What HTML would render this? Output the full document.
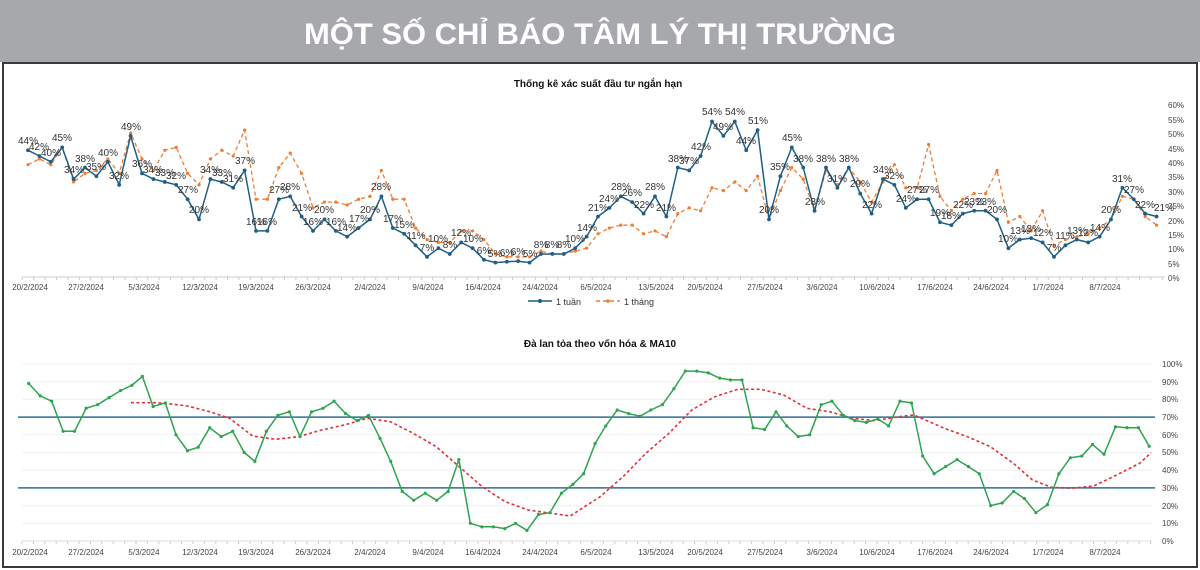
<!DOCTYPE html>
<html><head><meta charset="utf-8">
<style>
html,body{margin:0;padding:0;background:#fff;}
body{width:1200px;height:570px;overflow:hidden;position:relative;font-family:"Liberation Sans",sans-serif;}
svg{position:absolute;left:0;top:0;}
</style></head>
<body>
<svg id="s" width="1200" height="570" viewBox="0 0 1200 570" xmlns="http://www.w3.org/2000/svg" font-family="Liberation Sans, sans-serif">
<rect x="0" y="0" width="1200" height="62" fill="#a7a8ab"/>
<text x="600" y="44" text-anchor="middle" font-size="30" font-weight="bold" fill="#fff" textLength="592" lengthAdjust="spacingAndGlyphs">MỘT SỐ CHỈ BÁO TÂM LÝ THỊ TRƯỜNG</text>
<rect x="3" y="63" width="1194" height="504" fill="#fff" stroke="#3a3a3a" stroke-width="2"/>

<text x="598" y="87" text-anchor="middle" font-size="10" font-weight="bold" fill="#111">Thống kê xác suất đầu tư ngắn hạn</text>
<line x1="22" y1="277" x2="1165" y2="277" stroke="#ccc" stroke-width="1"/>
<g font-size="8" fill="#444" text-anchor="start">
<text x="1168" y="108">60%</text><text x="1168" y="123">55%</text><text x="1168" y="137">50%</text><text x="1168" y="152">45%</text><text x="1168" y="166">40%</text><text x="1168" y="180">35%</text><text x="1168" y="195">30%</text><text x="1168" y="209">25%</text><text x="1168" y="224">20%</text><text x="1168" y="238">15%</text><text x="1168" y="252">10%</text><text x="1168" y="267">5%</text><text x="1168" y="281">0%</text>
</g>
<g font-size="8" fill="#444" text-anchor="middle">
<text x="30" y="290">20/2/2024</text><text x="86" y="290">27/2/2024</text><text x="144" y="290">5/3/2024</text><text x="200" y="290">12/3/2024</text><text x="256" y="290">19/3/2024</text><text x="313" y="290">26/3/2024</text><text x="370" y="290">2/4/2024</text><text x="428" y="290">9/4/2024</text><text x="483" y="290">16/4/2024</text><text x="540" y="290">24/4/2024</text><text x="596" y="290">6/5/2024</text><text x="656" y="290">13/5/2024</text><text x="705" y="290">20/5/2024</text><text x="765" y="290">27/5/2024</text><text x="822" y="290">3/6/2024</text><text x="877" y="290">10/6/2024</text><text x="935" y="290">17/6/2024</text><text x="991" y="290">24/6/2024</text><text x="1048" y="290">1/7/2024</text><text x="1105" y="290">8/7/2024</text>
</g>
<g id="gtop"></g>
<g font-size="10" fill="#333" text-anchor="middle">
<text x="28" y="144">44%</text><text x="39" y="150">42%</text><text x="51" y="156">40%</text><text x="62" y="141">45%</text><text x="74" y="173">34%</text><text x="85" y="162">38%</text><text x="96" y="170">35%</text><text x="108" y="156">40%</text><text x="119" y="179">32%</text><text x="131" y="130">49%</text><text x="142" y="167">36%</text><text x="153" y="173">34%</text><text x="165" y="176">33%</text><text x="176" y="179">32%</text><text x="188" y="193">27%</text><text x="199" y="213">20%</text><text x="210" y="173">34%</text><text x="222" y="176">33%</text><text x="233" y="182">31%</text><text x="245" y="164">37%</text><text x="256" y="225">16%</text><text x="267" y="225">16%</text><text x="279" y="193">27%</text><text x="290" y="190">28%</text><text x="302" y="211">21%</text><text x="313" y="225">16%</text><text x="324" y="213">20%</text><text x="336" y="225">16%</text><text x="347" y="231">14%</text><text x="359" y="222">17%</text><text x="370" y="213">20%</text><text x="381" y="190">28%</text><text x="393" y="222">17%</text><text x="404" y="228">15%</text><text x="416" y="239">11%</text><text x="427" y="251">7%</text><text x="438" y="242">10%</text><text x="450" y="248">8%</text><text x="461" y="236">12%</text><text x="473" y="242">10%</text><text x="484" y="254">6%</text><text x="495" y="257">5%</text><text x="507" y="256">6%</text><text x="518" y="255">6%</text><text x="530" y="257">5%</text><text x="541" y="248">8%</text><text x="552" y="248">8%</text><text x="564" y="248">8%</text><text x="575" y="242">10%</text><text x="587" y="231">14%</text><text x="598" y="211">21%</text><text x="609" y="202">24%</text><text x="621" y="190">28%</text><text x="632" y="196">26%</text><text x="644" y="208">22%</text><text x="655" y="190">28%</text><text x="666" y="211">21%</text><text x="678" y="162">38%</text><text x="689" y="164">37%</text><text x="701" y="150">42%</text><text x="712" y="115">54%</text><text x="723" y="130">49%</text><text x="735" y="115">54%</text><text x="746" y="144">44%</text><text x="758" y="124">51%</text><text x="769" y="213">20%</text><text x="780" y="170">35%</text><text x="792" y="141">45%</text><text x="803" y="162">38%</text><text x="815" y="205">23%</text><text x="826" y="162">38%</text><text x="837" y="182">31%</text><text x="849" y="162">38%</text><text x="860" y="187">29%</text><text x="872" y="208">22%</text><text x="883" y="173">34%</text><text x="894" y="179">32%</text><text x="906" y="202">24%</text><text x="917" y="193">27%</text><text x="929" y="193">27%</text><text x="940" y="216">19%</text><text x="951" y="219">18%</text><text x="963" y="208">22%</text><text x="974" y="205">23%</text><text x="986" y="205">23%</text><text x="997" y="213">20%</text><text x="1008" y="242">10%</text><text x="1020" y="234">13%</text><text x="1031" y="232">13%</text><text x="1043" y="236">12%</text><text x="1054" y="251">7%</text><text x="1065" y="239">11%</text><text x="1077" y="234">13%</text><text x="1088" y="236">12%</text><text x="1100" y="231">14%</text><text x="1111" y="213">20%</text><text x="1122" y="182">31%</text><text x="1134" y="193">27%</text><text x="1145" y="208">22%</text><text x="1164" y="211">21%</text>
</g>
<line x1="528" y1="301" x2="552" y2="301" stroke="#1f5f85" stroke-width="1.5"/><circle cx="540" cy="301" r="2" fill="#1f5f85"/>
<text x="556" y="305" font-size="9" fill="#333">1 tuần</text>
<line x1="596" y1="301" x2="620" y2="301" stroke="#f07c33" stroke-width="1.5" stroke-dasharray="4,3"/><circle cx="608" cy="301" r="1.8" fill="#f07c33"/>
<text x="624" y="305" font-size="9" fill="#333">1 tháng</text>

<text x="600" y="347" text-anchor="middle" font-size="10" font-weight="bold" fill="#111">Đà lan tỏa theo vốn hóa &amp; MA10</text>
<g id="ggrid2"></g>
<g font-size="8" fill="#444">
<text x="1162" y="367">100%</text><text x="1162" y="385">90%</text><text x="1162" y="402">80%</text><text x="1162" y="420">70%</text><text x="1162" y="438">60%</text><text x="1162" y="455">50%</text><text x="1162" y="473">40%</text><text x="1162" y="491">30%</text><text x="1162" y="509">20%</text><text x="1162" y="526">10%</text><text x="1162" y="544">0%</text>
</g>
<g font-size="8" fill="#444" text-anchor="middle">
<text x="30" y="555">20/2/2024</text><text x="86" y="555">27/2/2024</text><text x="144" y="555">5/3/2024</text><text x="200" y="555">12/3/2024</text><text x="256" y="555">19/3/2024</text><text x="313" y="555">26/3/2024</text><text x="370" y="555">2/4/2024</text><text x="428" y="555">9/4/2024</text><text x="483" y="555">16/4/2024</text><text x="540" y="555">24/4/2024</text><text x="596" y="555">6/5/2024</text><text x="656" y="555">13/5/2024</text><text x="705" y="555">20/5/2024</text><text x="765" y="555">27/5/2024</text><text x="822" y="555">3/6/2024</text><text x="877" y="555">10/6/2024</text><text x="935" y="555">17/6/2024</text><text x="991" y="555">24/6/2024</text><text x="1048" y="555">1/7/2024</text><text x="1105" y="555">8/7/2024</text>
</g>
<g id="gbot"></g>
</svg>
<script>
(function(){
var NS="http://www.w3.org/2000/svg";
function el(p,n,a){var e=document.createElementNS(NS,n);for(var k in a)e.setAttribute(k,a[k]);p.appendChild(e);return e;}
var gT=document.getElementById('gtop'),gB=document.getElementById('gbot'),gG=document.getElementById('ggrid2');
var blue=[44,42,40,45,34,38,35,40,32,49,36,34,33,32,27,20,34,33,31,37,16,16,27,28,21,16,20,16,14,17,20,28,17,15,11,7,10,8,12,10,6,5,5.3,5.5,5,8,8,8,10,14,21,24,28,26,22,28,21,38,37,42,54,49,54,44,51,20,35,45,38,23,38,31,38,29,22,34,32,24,27,27,19,18,22,23,23,20,10,13,13.5,12,7,11,13,12,14,20,31,27,22,21];
var org=[39,41,39,45,33,36,37,41,36,50,41,37,44,45,36,32,41,44,42,51,27,27,38,43,36,24,26,26,25,27,28,37,27,27,17,13,12,12,16,16,13,8,7,7,7,9,8,8,9,10,15,17,18,18,15,16,14,22,24,23,31,30,33,30,35,20,30,38,34,23,37,32,38,33,26,33,39,31,31,46,28,23,27,29,29,37,19,21,16,23,11,13,14,15,17,20,28,27,21,18];
function tx(i){return 28+11.4*i;} function ty(v){return 277-2.88*v;}
function pl(parent,pts,attrs){var a={points:pts.map(function(p){return p[0].toFixed(1)+','+p[1].toFixed(1)}).join(' '),fill:'none'};for(var k in attrs)a[k]=attrs[k];el(parent,'polyline',a);}
var po=org.map(function(v,i){return [tx(i),ty(v)]});
pl(gT,po,{stroke:'#f07c33','stroke-width':1.3,'stroke-dasharray':'4,3'});
po.forEach(function(p){el(gT,'circle',{cx:p[0],cy:p[1],r:1.6,fill:'#f07c33'})});
var pb=blue.map(function(v,i){return [tx(i),ty(v)]});
pl(gT,pb,{stroke:'#1f5f85','stroke-width':1.5});
pb.forEach(function(p){el(gT,'circle',{cx:p[0],cy:p[1],r:1.9,fill:'#1f5f85'})});
for(var i=0;i<101;i++){el(gT,'line',{x1:tx(i)-5.7,y1:277,x2:tx(i)-5.7,y2:280,stroke:'#ccc'})}
function by(v){return 364+(100-v)*1.77;}
for(var v=0;v<=100;v+=10){el(gG,'line',{x1:22,x2:1152,y1:by(v),y2:by(v),stroke:v==0?'#ddd':'#f0f0f0','stroke-width':1});}
el(gG,'line',{x1:18,x2:1155,y1:by(70),y2:by(70),stroke:'#2f6d94','stroke-width':1.5});
el(gG,'line',{x1:18,x2:1155,y1:by(30),y2:by(30),stroke:'#2f6d94','stroke-width':1.5});
var S=2.613;
var g1=[[75,89],[105,82],[135,79],[165,62],[195,62],[225,75],[255,77],[285,81],[315,85],[345,88],[372,93],[400,76],[432,78],[460,60],[490,51],[518,53],[548,64],[578,59],[608,62],[638,50],[666,45],[696,62],[726,71],[756,73],[784,59],[814,73],[844,75],[873,79],[903,72],[933,68],[963,71],[993,58],[1021,45],[1051,28],[1081,23],[1111,27],[1141,23],[1171,28],[1199,46],[1229,10],[1259,8],[1289,8],[1319,7],[1347,10],[1377,6],[1407,15],[1437,16],[1467,27],[1497,32],[1525,38],[1555,55]];
var g2d=[[15,65],[45,74],[75,72],[105,70.5],[133,74],[163,77],[193,86],[223,96],[253,96],[283,95],[313,92],[341,91],[371,91],[400,64],[430,63],[460,73],[488,65],[518,59],[548,60],[578,77],[606,79],[636,71],[666,68],[696,67],[726,69],[754,65],[784,79],[814,78],[843,48],[873,38],[903,42],[933,46],[963,42],[991,38],[1021,20],[1051,21.5],[1081,28],[1109,24],[1139,16],[1169,20.5],[1199,38],[1229,47],[1259,48],[1287,54.5],[1317,49],[1347,64.5],[1377,64],[1407,64],[1435,53.5]];
var pg=g1.map(function(p){return [p[0]/S,by(p[1])]}).concat(g2d.map(function(p){return [600+p[0]/S,by(p[1])]}));
var r1=[[342,218],[400,218],[432,220],[490,228],[548,245],[600,265],[660,318],[720,328],[780,320],[840,300],[900,285],[960,265],[1020,275],[1080,310],[1140,350],[1200,410],[1260,470],[1320,515],[1380,540],[1440,550],[1490,558],[1568,500]];
var r2=[[60,440],[120,370],[180,310],[240,240],[300,200],[360,178],[420,178],[480,195],[540,235],[600,245],[660,265],[720,272],[780,260],[820,255],[900,295],[960,320],[1020,350],[1080,400],[1130,450],[1180,472],[1230,475],[1290,468],[1350,435],[1410,400],[1440,368]];
var pr=r1.map(function(p){return [p[0]/S,330+p[1]/3]}).concat(r2.map(function(p){return [600+p[0]/S,330+p[1]/3]}));
pl(gB,pr,{stroke:'#e0323a','stroke-width':1.6,'stroke-dasharray':'3,2.5'});
pl(gB,pg,{stroke:'#2ea44f','stroke-width':1.5});
pg.forEach(function(p){el(gB,'circle',{cx:p[0],cy:p[1],r:1.6,fill:'#2ea44f'})});
for(var j=0;j<100;j++){el(gB,'line',{x1:22+11.4*j,y1:541,x2:22+11.4*j,y2:544,stroke:'#ccc'})}
})();
</script>
</body></html>
